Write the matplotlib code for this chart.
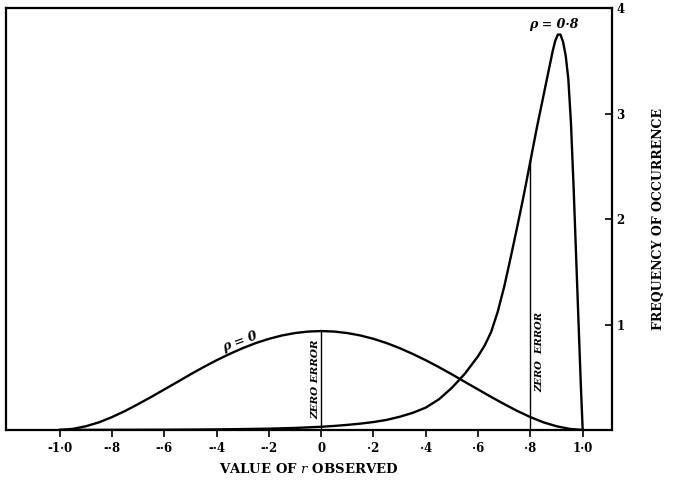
#Fisher style plot: distribution of observed r for rho = 0 and rho = 0.8
import numpy as np
import matplotlib.pyplot as plt

plt.rcParams['font.family'] = ['DejaVu Serif']
plt.rcParams['mathtext.fontset'] = 'dejavuserif'

#curve for rho = 0
r_zero = [-1.0, -0.95, -0.9, -0.85, -0.8, -0.75, -0.7, -0.65, -0.6, -0.55, -0.5,
          -0.45, -0.4, -0.35, -0.3, -0.25, -0.2, -0.15, -0.1, -0.05, 0.0,
          0.05, 0.1, 0.15, 0.2, 0.25, 0.3, 0.35, 0.4, 0.45, 0.5,
          0.55, 0.6, 0.65, 0.7, 0.75, 0.8, 0.85, 0.9, 0.95, 1.0]
f_zero = [0.0, 0.01, 0.035, 0.072, 0.122, 0.18, 0.245, 0.313, 0.384, 0.455, 0.527,
          0.596, 0.661, 0.721, 0.776, 0.824, 0.864, 0.896, 0.919, 0.933, 0.938,
          0.933, 0.919, 0.896, 0.864, 0.824, 0.776, 0.721, 0.661, 0.596, 0.527,
          0.455, 0.384, 0.313, 0.245, 0.18, 0.122, 0.072, 0.035, 0.01, 0.0]

#curve for rho = 0.8
r_high = [-1.0, -0.6, -0.4, -0.2, -0.1, 0.0, 0.05, 0.1, 0.15, 0.2, 0.25, 0.3, 0.35,
          0.4, 0.45, 0.5, 0.55, 0.6, 0.625, 0.65, 0.675, 0.7, 0.725, 0.75, 0.775,
          0.8, 0.825, 0.85, 0.87, 0.885, 0.895, 0.905, 0.915, 0.925, 0.935, 0.945,
          0.955, 0.965, 0.975, 0.985, 0.993, 1.0]
f_high = [0.0, 0.002, 0.005, 0.012, 0.019, 0.03, 0.038, 0.048, 0.06, 0.075, 0.095, 0.125, 0.162,
          0.212, 0.29, 0.40, 0.535, 0.70, 0.80, 0.93, 1.12, 1.36, 1.64, 1.93, 2.23,
          2.55, 2.87, 3.17, 3.41, 3.59, 3.69, 3.75, 3.75, 3.68, 3.55, 3.33,
          2.92, 2.32, 1.64, 0.96, 0.42, 0.0]

#zero error lines: position and height
zero_x = [0.0, 0.8]
zero_top = [0.938, 2.55]

x_ticks = [-1.0, -0.8, -0.6, -0.4, -0.2, 0.0, 0.2, 0.4, 0.6, 0.8, 1.0]
x_labels = ['-1·0', '-·8', '-·6', '-·4', '-·2', '0', '·2', '·4', '·6', '·8', '1·0']
y_ticks = [1, 2, 3, 4]

fig = plt.figure(figsize=(6.78, 4.82), dpi=100)
ax = fig.add_axes([0.009, 0.108, 0.894, 0.875])

ax.plot(r_zero, f_zero, color='black', lw=1.7)
ax.plot(r_high, f_high, color='black', lw=1.7)
for xx, top in zip(zero_x, zero_top):
    ax.plot([xx, xx], [0, top], color='black', lw=1.0)

ax.set_xlim(-1.205, 1.113)
ax.set_ylim(0, 4)

ax.set_xticks(x_ticks)
ax.set_xticklabels(x_labels, fontweight='bold', fontsize=8.5)
ax.tick_params(axis='x', direction='out', length=5, width=1.2, pad=4)

ax.yaxis.tick_right()
ax.set_yticks(y_ticks)
ax.set_yticklabels([str(v) for v in y_ticks], fontweight='bold', fontsize=8.5)
ax.tick_params(axis='y', direction='in', length=5, width=1.2, pad=3)
ax.yaxis.set_label_position('right')
ax.set_ylabel('FREQUENCY OF OCCURRENCE', fontweight='bold', fontsize=9, labelpad=20)
ax.set_xlabel('VALUE OF $\\mathit{r}$ OBSERVED', fontweight='bold', fontsize=9.5, labelpad=5)

for s in ax.spines.values():
    s.set_linewidth(1.6)

ax.text(-0.31, 0.84, 'ρ = 0', fontsize=9, style='italic', fontweight='bold',
        rotation=20, ha='center', va='center')
ax.text(0.89, 3.85, 'ρ = 0·8', fontsize=9, style='italic', fontweight='bold',
        ha='center', va='center')
ax.text(-0.022, 0.48, 'ZERO ERROR', fontsize=7.5, style='italic', fontweight='bold',
        rotation=90, ha='center', va='center')
ax.text(0.835, 0.74, 'ZERO  ERROR', fontsize=7.2, style='italic', fontweight='bold',
        rotation=90, ha='center', va='center')

fig.savefig('out.png', dpi=100)
